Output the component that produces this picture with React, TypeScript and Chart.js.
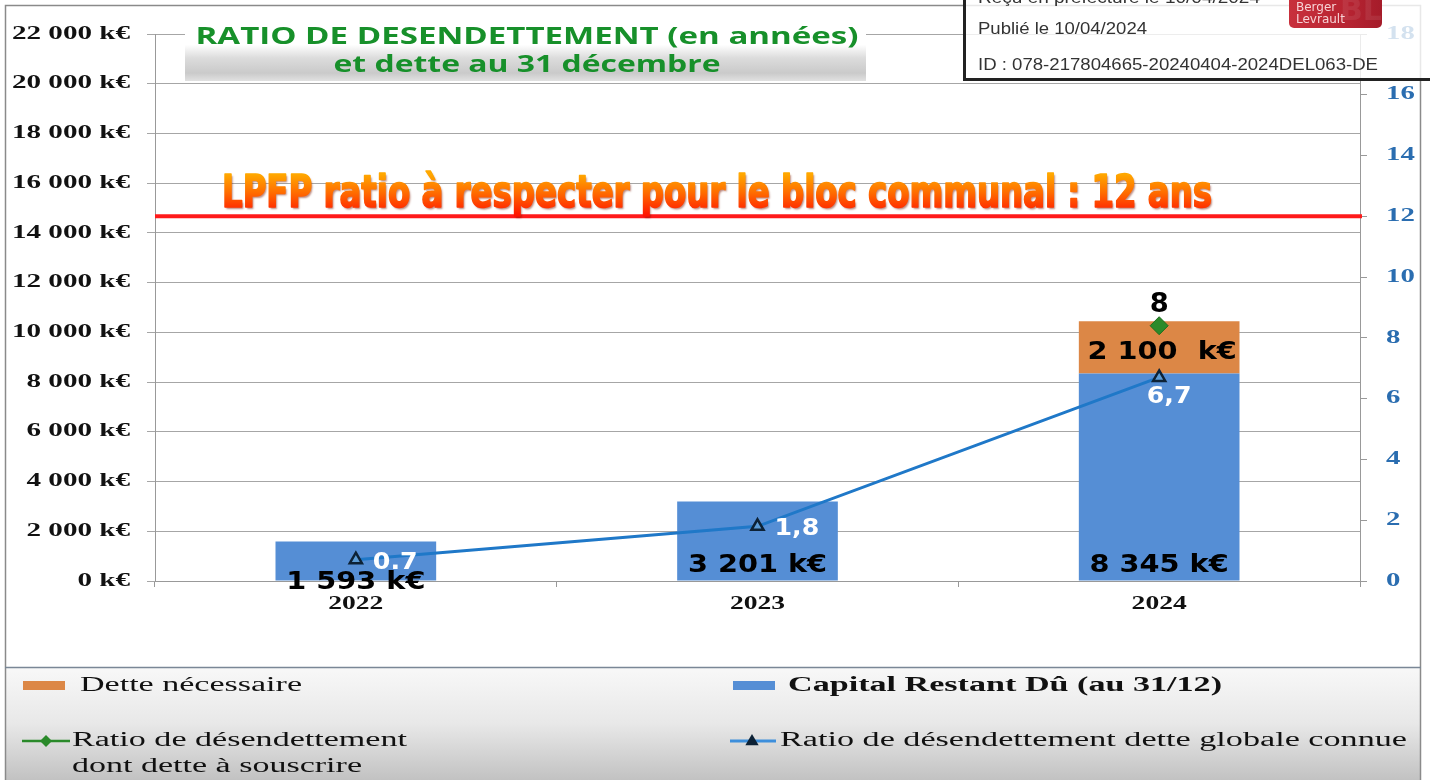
import { useEffect, useRef } from 'react';
import { Chart, registerables } from 'chart.js';

Chart.register(...registerables);

// ---- data ----
const CATEGORIES = ['2022', '2023', '2024'];
const CAPITAL_RESTANT_DU = [1593, 3201, 8345];
const DETTE_NECESSAIRE = [null, null, 2100];
const RATIO_DETTE_CONNUE = [0.7, 1.8, 6.7];
const RATIO_DONT_SOUSCRIRE = [null, null, 8.4];
const CAPITAL_LABELS = ['1 593 k€', '3 201 k€', '8 345 k€'];
const DETTE_LABELS = [null, null, '2 100  k€'];
const RATIO_LABELS = ['0.7', '1,8', '6,7'];
const RATIO_SOUSCRIRE_LABELS = [null, null, '8'];
const RATIO_LIMIT = 12;
const LIMIT_TEXT = 'LPFP ratio à respecter pour le bloc communal : 12 ans';
const TITLE_LINES = ['RATIO DE DESENDETTEMENT (en années)', 'et dette au 31 décembre'];
const LEGEND_DETTE = 'Dette nécessaire';
const LEGEND_CAPITAL = 'Capital Restant Dû (au 31/12)';
const LEGEND_RATIO_SOUSCRIRE = ['Ratio de désendettement', 'dont dette à souscrire'];
const LEGEND_RATIO_CONNUE = 'Ratio de désendettement dette globale connue';
const STAMP_LINES = [
  'Reçu en préfecture le 10/04/2024',
  'Publié le 10/04/2024',
  'ID : 078-217804665-20240404-2024DEL063-DE',
];

const BLUE = '#558ed5';
const ORANGE = '#dc8746';
const GREEN = '#2a8a2a';
const LINE_BLUE = '#1f78c8';

function fmtK(v: number) {
  return String(v).replace(/\B(?=(\d{3})+(?!\d))/g, ' ') + ' k€';
}

function txt(
  ctx: CanvasRenderingContext2D,
  s: string,
  x: number,
  y: number,
  font: string,
  color: string,
  align: CanvasTextAlign,
  sx: number,
  targetW?: number
) {
  ctx.save();
  ctx.font = font;
  ctx.fillStyle = color;
  ctx.textBaseline = 'middle';
  ctx.textAlign = align;
  let k = sx;
  if (targetW) k = targetW / ctx.measureText(s).width;
  ctx.translate(x, y);
  ctx.scale(k, 1);
  ctx.fillText(s, 0, 0);
  ctx.restore();
}

function triangle(ctx: CanvasRenderingContext2D, x: number, y: number, r: number) {
  ctx.beginPath();
  ctx.moveTo(x, y - r);
  ctx.lineTo(x + r * 0.95, y + r * 0.6);
  ctx.lineTo(x - r * 0.95, y + r * 0.6);
  ctx.closePath();
}

const decor = {
  id: 'decor',
  beforeDraw(chart: any) {
    const ctx: CanvasRenderingContext2D = chart.ctx;
    ctx.save();
    ctx.fillStyle = '#ffffff';
    ctx.fillRect(0, 0, chart.width, chart.height);
    const g = ctx.createLinearGradient(0, 667, 0, 780);
    g.addColorStop(0, '#f8f8f8');
    g.addColorStop(0.5, '#e8e8e8');
    g.addColorStop(1, '#c2c2c2');
    ctx.fillStyle = g;
    ctx.fillRect(5, 667, 1416, 113);
    ctx.strokeStyle = '#8a8a8a';
    ctx.lineWidth = 1.5;
    ctx.beginPath();
    ctx.moveTo(5.5, 780);
    ctx.lineTo(5.5, 5.5);
    ctx.lineTo(1420.5, 5.5);
    ctx.lineTo(1420.5, 780);
    ctx.stroke();
    ctx.strokeStyle = '#7a8796';
    ctx.beginPath();
    ctx.moveTo(5, 667.5);
    ctx.lineTo(1421, 667.5);
    ctx.stroke();
    ctx.restore();
  },
  afterDatasetsDraw(chart: any) {
    const ctx: CanvasRenderingContext2D = chart.ctx;
    const area = chart.chartArea;
    const y1 = chart.scales.y1;

    // limit line
    const ly = y1.getPixelForValue(RATIO_LIMIT);
    ctx.save();
    ctx.strokeStyle = '#ff1a1a';
    ctx.lineWidth = 4;
    ctx.beginPath();
    ctx.moveTo(area.left, ly);
    ctx.lineTo(area.right + 2, ly);
    ctx.stroke();
    ctx.restore();

    // banner text
    ctx.save();
    ctx.font = 'bold 44px "DejaVu Sans Condensed", "DejaVu Sans"';
    const w = ctx.measureText(LIMIT_TEXT).width;
    const k = 990 / w;
    const base = ly - 9;
    ctx.translate(222, base);
    ctx.scale(k, 1);
    const grad = ctx.createLinearGradient(0, -33, 0, 9);
    grad.addColorStop(0, '#ffa800');
    grad.addColorStop(0.45, '#ff6a00');
    grad.addColorStop(1, '#ff1000');
    ctx.fillStyle = grad;
    ctx.strokeStyle = grad;
    ctx.lineWidth = 1.6;
    ctx.lineJoin = 'round';
    ctx.shadowColor = 'rgba(120,20,0,0.5)';
    ctx.shadowOffsetX = 1.5;
    ctx.shadowOffsetY = 1.5;
    ctx.shadowBlur = 2;
    ctx.textBaseline = 'alphabetic';
    ctx.textAlign = 'left';
    ctx.fillText(LIMIT_TEXT, 0, 0);
    ctx.shadowColor = 'transparent';
    ctx.strokeText(LIMIT_TEXT, 0, 0);
    ctx.restore();

    // title box
    ctx.save();
    const tg = ctx.createLinearGradient(0, 22, 0, 82);
    tg.addColorStop(0, '#ffffff');
    tg.addColorStop(0.38, '#ffffff');
    tg.addColorStop(0.6, '#dcdcdc');
    tg.addColorStop(0.85, '#cacaca');
    tg.addColorStop(1, '#e4e4e4');
    ctx.fillStyle = tg;
    ctx.fillRect(185, 22, 681, 59);
    ctx.restore();
    txt(ctx, TITLE_LINES[0], 527, 37, 'bold 24px "Open Sans"', '#17902a', 'center', 1, 663);
    txt(ctx, TITLE_LINES[1], 527, 65, 'bold 24px "Open Sans"', '#17902a', 'center', 1, 387);

    // data labels
    const capMeta = chart.getDatasetMeta(2);
    const detMeta = chart.getDatasetMeta(3);
    const ratioMeta = chart.getDatasetMeta(1);
    const sousMeta = chart.getDatasetMeta(0);
    const lblFont = 'bold 25px "DejaVu Sans"';
    for (let j = 0; j < CATEGORIES.length; j++) {
      const el = capMeta.data[j];
      if (el && CAPITAL_LABELS[j]) {
        const h = el.base - el.y;
        const yy = h > 50 ? el.base - 15 : el.base + 2;
        txt(ctx, CAPITAL_LABELS[j] as string, el.x, yy, lblFont, '#000', 'center', 1.15);
      }
      const de = detMeta.data[j];
      if (de && DETTE_LABELS[j] && DETTE_NECESSAIRE[j] != null) {
        txt(ctx, DETTE_LABELS[j] as string, de.x + 3, (de.y + de.base) / 2 + 5, lblFont, '#000', 'center', 1.15);
      }
      const pe = ratioMeta.data[j];
      if (pe && RATIO_LABELS[j]) {
        if (j === CATEGORIES.length - 1) {
          txt(ctx, RATIO_LABELS[j], pe.x + 10, pe.y + 20, 'bold 23px "DejaVu Sans"', '#ffffff', 'center', 1.1);
        } else {
          txt(ctx, RATIO_LABELS[j], pe.x + 17, pe.y + 3, 'bold 23px "DejaVu Sans"', '#ffffff', 'left', 1.1);
        }
      }
      const se = sousMeta.data[j];
      if (se && RATIO_SOUSCRIRE_LABELS[j] && RATIO_DONT_SOUSCRIRE[j] != null) {
        txt(ctx, RATIO_SOUSCRIRE_LABELS[j] as string, se.x, se.y - 20, 'bold 26px "DejaVu Sans"', '#000', 'center', 1.05);
      }
    }
  },
  afterDraw(chart: any) {
    const ctx: CanvasRenderingContext2D = chart.ctx;
    const ys = chart.scales.y;
    const y1 = chart.scales.y1;
    const xs = chart.scales.x;

    // left tick labels
    const lf = 'bold 18px "Liberation Serif"';
    ctx.save();
    ctx.font = lf;
    const kL = 118 / ctx.measureText(fmtK(22000)).width;
    ctx.restore();
    ys.ticks.forEach((t: any) => {
      txt(ctx, fmtK(t.value), 130, ys.getPixelForValue(t.value), lf, '#111', 'right', kL);
    });
    // right tick labels
    y1.ticks.forEach((t: any) => {
      txt(ctx, String(t.value), 1386, y1.getPixelForValue(t.value), 'bold 18px "Liberation Serif"', '#2a6db0', 'left', 1.6);
    });
    // x labels
    CATEGORIES.forEach((c, i) => {
      txt(ctx, c, xs.getPixelForValue(i), 604, 'bold 19px "Liberation Serif"', '#111', 'center', 1.45);
    });

    // legend
    const legFont = '20px "Liberation Serif"';
    const ds = chart.data.datasets;
    ctx.save();
    ctx.fillStyle = ds[3].backgroundColor;
    ctx.fillRect(23, 681, 42, 9);
    ctx.fillStyle = ds[2].backgroundColor;
    ctx.fillRect(733, 681, 42, 9);
    // green line + diamond
    ctx.strokeStyle = ds[0].borderColor;
    ctx.lineWidth = 2.5;
    ctx.beginPath();
    ctx.moveTo(22, 741);
    ctx.lineTo(70, 741);
    ctx.stroke();
    ctx.fillStyle = ds[0].backgroundColor;
    ctx.beginPath();
    ctx.moveTo(46, 735);
    ctx.lineTo(52, 741);
    ctx.lineTo(46, 747);
    ctx.lineTo(40, 741);
    ctx.closePath();
    ctx.fill();
    // blue line + triangle
    ctx.strokeStyle = '#3d8fdc';
    ctx.lineWidth = 3;
    ctx.beginPath();
    ctx.moveTo(730, 741);
    ctx.lineTo(776, 741);
    ctx.stroke();
    ctx.fillStyle = '#0d2236';
    triangle(ctx, 752, 741, 7);
    ctx.fill();
    ctx.restore();
    txt(ctx, LEGEND_DETTE, 80, 686, legFont, '#111', 'left', 1, 222);
    txt(ctx, LEGEND_CAPITAL, 788, 686, 'bold ' + legFont, '#111', 'left', 1, 434);
    txt(ctx, LEGEND_RATIO_SOUSCRIRE[0], 72, 741, legFont, '#111', 'left', 1, 335);
    txt(ctx, LEGEND_RATIO_SOUSCRIRE[1], 72, 767, legFont, '#111', 'left', 1, 290);
    txt(ctx, LEGEND_RATIO_CONNUE, 780, 741, legFont, '#111', 'left', 1, 627);

    // stamp
    ctx.save();
    ctx.fillStyle = 'rgba(255,255,255,0.8)';
    ctx.fillRect(964, -2, 470, 82);
    ctx.strokeStyle = '#222';
    ctx.lineWidth = 3;
    ctx.beginPath();
    ctx.moveTo(964.5, -2);
    ctx.lineTo(964.5, 79.5);
    ctx.lineTo(1432, 79.5);
    ctx.stroke();
    // logo
    const lg = ctx.createLinearGradient(1289, 0, 1382, 0);
    lg.addColorStop(0, '#c8303c');
    lg.addColorStop(0.6, '#b82432');
    lg.addColorStop(1, '#a51c2a');
    ctx.fillStyle = lg;
    ctx.beginPath();
    (ctx as any).roundRect(1289, -8, 93, 36, 5);
    ctx.fill();
    ctx.beginPath();
    ctx.rect(1289, -8, 93, 36);
    ctx.clip();
    ctx.fillStyle = 'rgba(255,255,255,0.08)';
    ctx.font = 'bold 30px "DejaVu Sans"';
    ctx.textBaseline = 'middle';
    ctx.fillText('BL', 1340, 12);
    ctx.restore();
    txt(ctx, 'Berger', 1296, 8, '12px "DejaVu Sans"', '#f7d3d6', 'left', 1);
    txt(ctx, 'Levrault', 1296, 20, '12px "DejaVu Sans"', '#f7d3d6', 'left', 1);
    txt(ctx, STAMP_LINES[0], 978, -1, '16px "Liberation Sans"', '#333', 'left', 1, 282);
    txt(ctx, STAMP_LINES[1], 978, 30, '16px "Liberation Sans"', '#333', 'left', 1, 169);
    txt(ctx, STAMP_LINES[2], 978, 66, '16px "Liberation Sans"', '#333', 'left', 1, 400);
  },
};

export default function App() {
  const ref = useRef<HTMLCanvasElement>(null);
  useEffect(() => {
    const chart = new Chart(ref.current as HTMLCanvasElement, {
      type: 'bar',
      data: {
        labels: CATEGORIES,
        datasets: [
          {
            type: 'line',
            label: LEGEND_RATIO_SOUSCRIRE.join(' '),
            data: RATIO_DONT_SOUSCRIRE,
            yAxisID: 'y1',
            borderColor: GREEN,
            backgroundColor: GREEN,
            pointStyle: 'rectRot',
            pointRadius: 9,
            pointBorderColor: '#1d6e1d',
            pointBorderWidth: 1,
            borderWidth: 2,
            showLine: false,
            order: 0,
          } as any,
          {
            type: 'line',
            label: LEGEND_RATIO_CONNUE,
            data: RATIO_DETTE_CONNUE,
            yAxisID: 'y1',
            borderColor: LINE_BLUE,
            backgroundColor: LINE_BLUE,
            borderWidth: 3,
            pointStyle: 'triangle',
            pointRadius: 7,
            pointBackgroundColor: '#5b9bd5',
            pointBorderColor: '#0d2236',
            pointBorderWidth: 2.5,
            tension: 0,
            order: 1,
          } as any,
          {
            type: 'bar',
            label: LEGEND_CAPITAL,
            data: CAPITAL_RESTANT_DU,
            backgroundColor: BLUE,
            yAxisID: 'y',
            stack: 's',
            barPercentage: 0.4,
            categoryPercentage: 1,
            order: 2,
          } as any,
          {
            type: 'bar',
            label: LEGEND_DETTE,
            data: DETTE_NECESSAIRE,
            backgroundColor: ORANGE,
            yAxisID: 'y',
            stack: 's',
            barPercentage: 0.4,
            categoryPercentage: 1,
            order: 2,
          } as any,
        ],
      },
      options: {
        responsive: false,
        animation: false,
        devicePixelRatio: 1,
        layout: { padding: { top: 34, left: 0, right: 0, bottom: 0 } },
        plugins: { legend: { display: false }, tooltip: { enabled: false } },
        scales: {
          x: {
            stacked: true,
            grid: { display: true, drawOnChartArea: false, offset: true, tickLength: 6, color: '#999' },
            border: { color: '#999' },
            ticks: { display: false },
            afterFit(s: any) {
              s.height = 199;
            },
          },
          y: {
            position: 'left',
            stacked: true,
            min: 0,
            max: 22000,
            ticks: { stepSize: 2000, display: false },
            grid: { color: '#a6a6a6', tickLength: 8 },
            border: { color: '#999' },
            afterFit(s: any) {
              s.width = 155;
            },
          },
          y1: {
            position: 'right',
            min: 0,
            max: 18,
            ticks: { stepSize: 2, display: false },
            grid: { drawOnChartArea: false, tickLength: 7, color: '#999' },
            border: { color: '#999' },
            afterFit(s: any) {
              s.width = 70;
            },
          },
        } as any,
      },
      plugins: [decor as any],
    });
    return () => chart.destroy();
  }, []);
  return (
    <div style={{ position: 'fixed', left: 0, top: 0, width: 1430, height: 780, background: '#fff' }}>
      <canvas ref={ref} width={1430} height={780} style={{ display: 'block', width: 1430, height: 780 }} />
    </div>
  );
}
